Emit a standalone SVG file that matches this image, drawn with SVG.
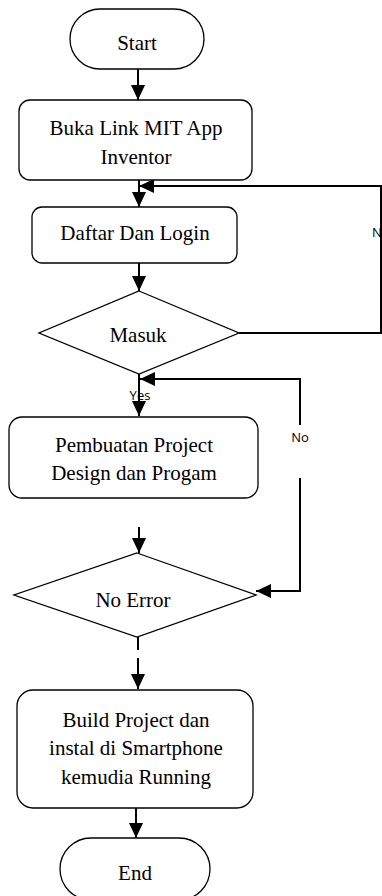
<svg xmlns="http://www.w3.org/2000/svg" width="382" height="896" viewBox="0 0 382 896">
<style>
.shape{fill:#fff;stroke:#000;stroke-width:1.3}
.conn{fill:none;stroke:#000;stroke-width:2}
.t{font-family:"Liberation Serif","Times New Roman",serif;font-size:21px;fill:#000;text-anchor:middle}
.lbl{font-family:"Open Sans","Noto Sans",sans-serif;font-size:13px;fill:#000;text-anchor:middle}
</style>
<defs>
<marker id="ah" markerUnits="userSpaceOnUse" markerWidth="16" markerHeight="14" refX="15" refY="7" orient="auto">
<path d="M0,0 L15,7 L0,14 Z" fill="#000"/>
</marker>
</defs>
<g id="connectors">
<line class="conn" x1="138" y1="69" x2="138" y2="100" marker-end="url(#ah)"/>
<line class="conn" x1="139" y1="180" x2="139" y2="207" marker-end="url(#ah)"/>
<line class="conn" x1="139" y1="263" x2="139" y2="291" marker-end="url(#ah)"/>
<polyline class="conn" points="239,333 381,333 381,186 139,186" marker-end="url(#ah)"/>
<line class="conn" x1="139" y1="374" x2="139" y2="416" marker-end="url(#ah)"/>
<polyline class="conn" points="300,425 300,379 140,379" marker-end="url(#ah)"/>
<polyline class="conn" points="300,478 300,591 256,591" marker-end="url(#ah)"/>
<line class="conn" x1="139" y1="527" x2="139" y2="553" marker-end="url(#ah)"/>
<line class="conn" x1="138" y1="637" x2="138" y2="650"/>
<line class="conn" x1="138" y1="658" x2="138" y2="689" marker-end="url(#ah)"/>
<line class="conn" x1="136" y1="808" x2="136" y2="838" marker-end="url(#ah)"/>
<text class="lbl" x="377" y="237">N</text>
<text class="lbl" x="140" y="400">Yes</text>
<text class="lbl" x="300" y="442">No</text>
<text class="lbl" x="137" y="627">Yes</text>
</g>
<g id="start">
<rect class="shape" x="70" y="9" width="134" height="60" rx="30" ry="30"/>
<text class="t" x="137" y="50">Start</text>
</g>
<g id="buka">
<rect class="shape" x="19" y="100" width="233" height="80" rx="11" ry="11"/>
<text class="t" x="136" y="135">Buka Link MIT App</text>
<text class="t" x="136" y="164">Inventor</text>
</g>
<g id="daftar">
<rect class="shape" x="32" y="207" width="205" height="56" rx="10" ry="10"/>
<text class="t" x="135" y="240">Daftar Dan Login</text>
</g>
<g id="masuk">
<polygon class="shape" points="139,291 239,333 139,374 39,333"/>
<text class="t" x="138" y="342">Masuk</text>
</g>
<g id="pembuatan">
<rect class="shape" x="9" y="417" width="249" height="81" rx="13" ry="13"/>
<text class="t" x="134" y="452">Pembuatan Project</text>
<text class="t" x="134" y="480">Design dan Progam</text>
</g>
<g id="noerror">
<polygon class="shape" points="137,553 256,595 137,637 14,595"/>
<text class="t" x="133" y="607">No Error</text>
</g>
<g id="build">
<rect class="shape" x="17" y="690" width="236" height="118" rx="16" ry="16"/>
<text class="t" x="136" y="727">Build Project dan</text>
<text class="t" x="136" y="755">instal di Smartphone</text>
<text class="t" x="136" y="784">kemudia Running</text>
</g>
<g id="end">
<rect class="shape" x="60" y="838" width="150" height="62" rx="31" ry="31"/>
<text class="t" x="135" y="880">End</text>
</g>
</svg>
